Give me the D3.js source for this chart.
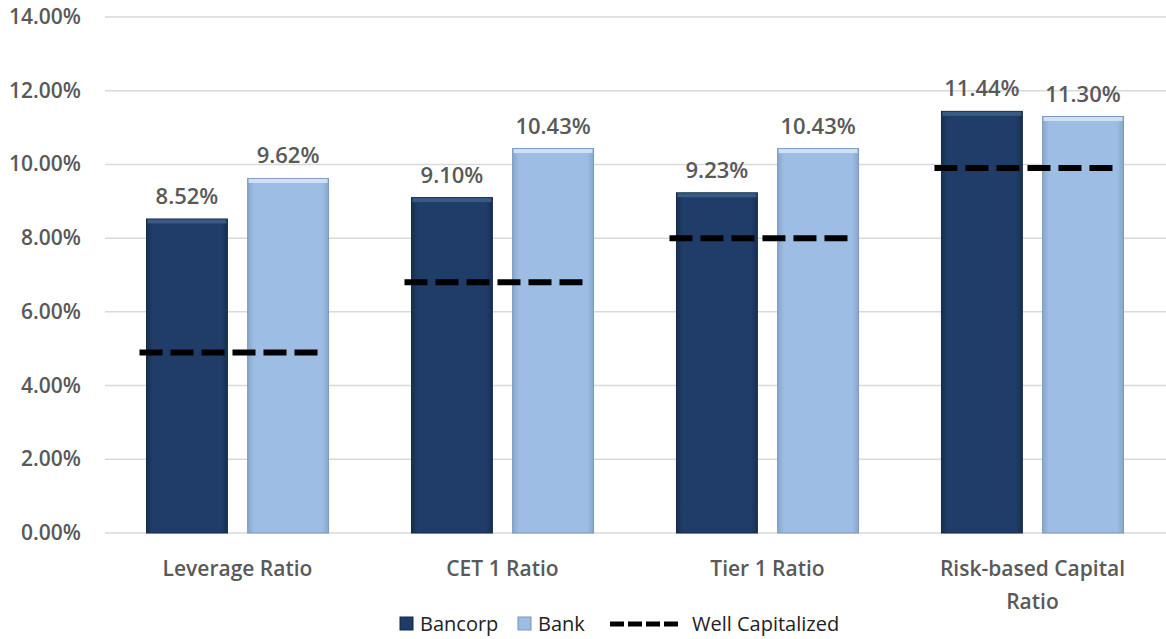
<html>
<script src="https://cdn.jsdelivr.net/npm/d3@7"></script>
<head>
    <style>
        body {
            margin: 0;
            background: white;
            font-family: "Open Sans", "Noto Sans", sans-serif;
        }
    </style>
</head>
<body>
<svg id="chart"></svg>
<script>
    let categories = ["Leverage Ratio", "CET 1 Ratio", "Tier 1 Ratio", "Risk-based Capital Ratio"]
    let series = ["Bancorp", "Bank"]
    let bancorp = [8.52, 9.10, 9.23, 11.44]
    let bank = [9.62, 10.43, 10.43, 11.30]
    let wellCapitalized = [4.9, 6.8, 8.0, 9.9]
    let yTicks = [0, 2, 4, 6, 8, 10, 12, 14]

    let width = 1166, height = 639
    let margin = {top: 17, left: 105, right: 1, bottom: 106}
    let textColor = "#595959"

    let svg = d3.select("#chart").attr("width", width).attr("height", height)

    let defs = svg.append("defs")
    function gradient(id, c1, c2) {
        let g = defs.append("linearGradient").attr("id", id)
            .attr("x1", "0").attr("x2", "1").attr("y1", "0").attr("y2", "0")
        g.append("stop").attr("offset", "0%").attr("stop-color", c2)
        g.append("stop").attr("offset", "8%").attr("stop-color", c1)
        g.append("stop").attr("offset", "92%").attr("stop-color", c1)
        g.append("stop").attr("offset", "100%").attr("stop-color", c2)
    }
    gradient("gBancorp", "#1f3d68", "#17304f")
    gradient("gBank", "#9dbde4", "#86a6cc")

    let yScale = d3.scaleLinear()
        .domain([0, 14])
        .range([height - margin.bottom, margin.top])

    let x0 = d3.scaleBand()
        .domain(categories)
        .range([margin.left, width - margin.right])
        .paddingInner(0.313)
        .paddingOuter(0.1566)

    let x1 = d3.scaleBand()
        .domain(series)
        .range([0, x0.bandwidth()])
        .paddingInner(0.2)

    // grid
    svg.append("g").selectAll("line")
        .data(yTicks)
        .enter().append("line")
        .attr("x1", margin.left).attr("x2", width)
        .attr("y1", d => yScale(d)).attr("y2", d => yScale(d))
        .attr("stroke", "#d9d9d9").attr("stroke-width", 1.5)

    // y labels
    svg.append("g").selectAll("text")
        .data(yTicks)
        .enter().append("text")
        .attr("x", 81)
        .attr("y", d => yScale(d) + 7)
        .attr("text-anchor", "end")
        .attr("font-size", 21)
        .attr("font-weight", 600)
        .attr("fill", textColor)
        .text(d => d3.format(".2f")(d) + "%")

    let rows = categories.map((c, i) => ({cat: c, Bancorp: bancorp[i], Bank: bank[i], wc: wellCapitalized[i]}))

    let groups = svg.append("g").selectAll("g")
        .data(rows)
        .enter().append("g")
        .attr("transform", d => `translate(${x0(d.cat)},0)`)

    groups.selectAll("rect")
        .data(d => series.map(s => ({s: s, v: d[s]})))
        .enter().append("rect")
        .attr("x", d => x1(d.s))
        .attr("width", x1.bandwidth())
        .attr("y", d => yScale(d.v))
        .attr("height", d => yScale(0) - yScale(d.v))
        .attr("fill", d => d.s == "Bancorp" ? "url(#gBancorp)" : "url(#gBank)")
        .attr("stroke", d => d.s == "Bancorp" ? "#142a47" : "#7d98bb")
        .attr("stroke-width", 1)

    // top bevel
    groups.selectAll(".bevel")
        .data(d => series.map(s => ({s: s, v: d[s]})))
        .enter().append("rect")
        .attr("class", "bevel")
        .attr("x", d => x1(d.s) + 1)
        .attr("width", x1.bandwidth() - 2)
        .attr("y", d => yScale(d.v) + 0.5)
        .attr("height", 4)
        .attr("fill", d => d.s == "Bancorp" ? "#3a5a86" : "#cfe0f4")

    groups.selectAll(".val")
        .data(d => series.map(s => ({s: s, v: d[s]})))
        .enter().append("text")
        .attr("class", "val")
        .attr("x", d => x1(d.s) + x1.bandwidth() / 2)
        .attr("y", d => yScale(d.v) - 15)
        .attr("text-anchor", "middle")
        .attr("font-size", 22)
        .attr("font-weight", 600)
        .attr("fill", textColor)
        .text(d => d3.format(".2f")(d.v) + "%")

    // well capitalized dashed lines
    groups.append("line")
        .attr("x1", -7)
        .attr("x2", x0.bandwidth() - 4)
        .attr("y1", d => yScale(d.wc))
        .attr("y2", d => yScale(d.wc))
        .attr("stroke", "black")
        .attr("stroke-width", 6)
        .attr("stroke-dasharray", "23,8")

    // category labels
    let catLabels = svg.append("g").selectAll("text")
        .data(categories)
        .enter().append("text")
        .attr("x", d => x0(d) + x0.bandwidth() / 2)
        .attr("y", 576)
        .attr("text-anchor", "middle")
        .attr("font-size", 21)
        .attr("font-weight", 600)
        .attr("fill", textColor)
    catLabels.each(function(d) {
        let lines = d == "Risk-based Capital Ratio" ? ["Risk-based Capital", "Ratio"] : [d]
        d3.select(this).selectAll("tspan")
            .data(lines)
            .enter().append("tspan")
            .attr("x", x0(d) + x0.bandwidth() / 2)
            .attr("dy", (l, i) => i == 0 ? 0 : 33)
            .text(l => l)
    })

    // legend
    let legend = svg.append("g")
    let legendY = 624
    legend.append("rect").attr("x", 400).attr("y", legendY - 7).attr("width", 13).attr("height", 13)
        .attr("fill", "url(#gBancorp)").attr("stroke", "#142a47")
    legend.append("text").attr("x", 420).attr("y", legendY + 7).text("Bancorp")
    legend.append("rect").attr("x", 518).attr("y", legendY - 7).attr("width", 13).attr("height", 13)
        .attr("fill", "url(#gBank)").attr("stroke", "#7d98bb")
    legend.append("text").attr("x", 538).attr("y", legendY + 7).text("Bank")
    legend.append("line").attr("x1", 610).attr("x2", 678).attr("y1", legendY).attr("y2", legendY)
        .attr("stroke", "black").attr("stroke-width", 5).attr("stroke-dasharray", "14,4")
    legend.append("text").attr("x", 692).attr("y", legendY + 7).text("Well Capitalized")
    legend.selectAll("text")
        .attr("font-size", 20)
        .attr("fill", "#222")
</script>
</body>
</html>
